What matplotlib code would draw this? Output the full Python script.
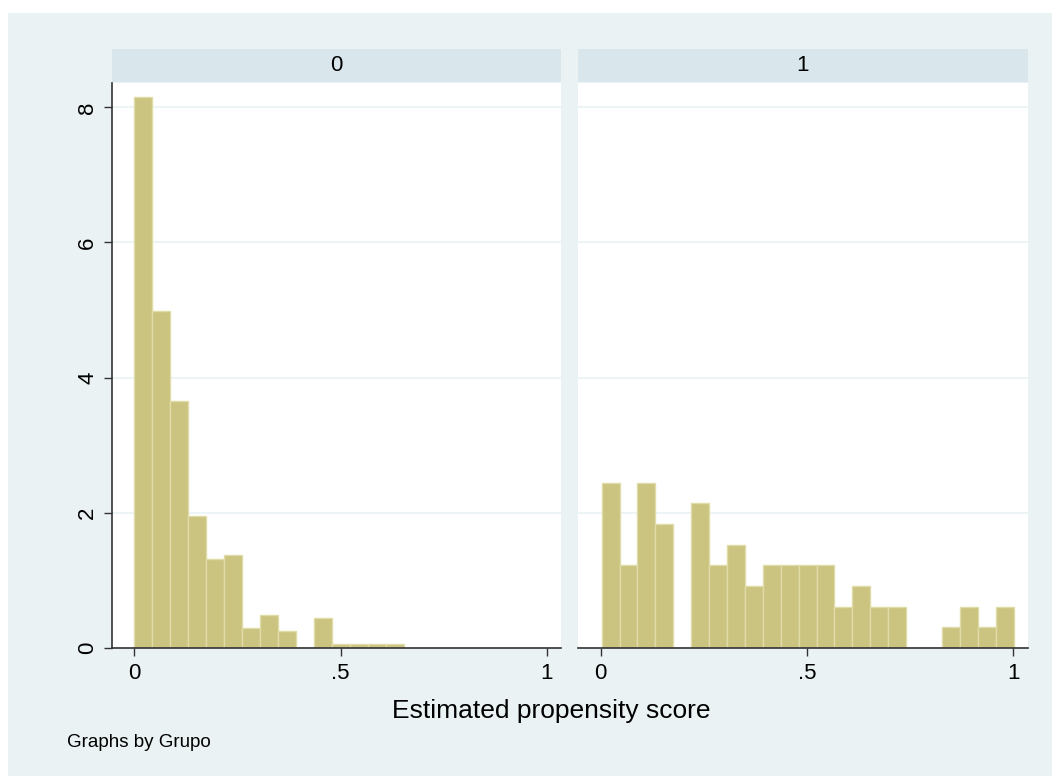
import numpy as np
import matplotlib
matplotlib.use("Agg")
import matplotlib.pyplot as plt
from matplotlib.patches import Rectangle

plt.rcParams["font.family"] = ["Liberation Sans", "DejaVu Sans"]

# group 0: 15 bins starting at 0
edges_0_start = 0.0
width_0 = 0.0436
density_0 = [8.16, 4.98, 3.66, 1.96, 1.32, 1.37, 0.29, 0.49, 0.25, 0.0,
             0.45, 0.057, 0.057, 0.057, 0.057]

# group 1: 23 bins
edges_1_start = 0.0024
width_1 = 0.0434
density_1 = [2.44, 1.23, 2.44, 1.84, 0.0, 2.14, 1.23, 1.53, 0.92, 1.23,
             1.23, 1.23, 1.23, 0.61, 0.92, 0.61, 0.61, 0.0, 0.0, 0.31,
             0.61, 0.31, 0.61]

groups = ["0", "1"]
xticks = [0, 0.5, 1]
xticklabels = ["0", ".5", "1"]
yticks = [0, 2, 4, 6, 8]

BG = "#eaf2f3"
STRIP = "#d9e6eb"
BAR = "#cbc380"
BAR_EDGE = "#e0dca8"
GRID = "#eaf2f3"

W, H = 1052, 776
fig = plt.figure(figsize=(W / 100, H / 100), dpi=100, facecolor="white")


def fx(px):
    return px / W


def fy(py):
    return 1 - py / H


# outer graph region (white margin only at top and left)
fig.patches.append(Rectangle((fx(8), -0.1), 1.2, fy(13) + 0.1,
                             transform=fig.transFigure, facecolor=BG,
                             edgecolor="none", zorder=-10))

panels = [
    (112, 561, edges_0_start, width_0, density_0, (-0.0534, 1.034)),
    (578, 1028, edges_1_start, width_1, density_1, (-0.055, 1.0356)),
]

y_top, y_bot = 83, 648
strip_top, strip_bot = 49, 82

for i, (x0, x1, start, width, dens, xlim) in enumerate(panels):
    ax = fig.add_axes([fx(x0), fy(y_bot), fx(x1 - x0), (y_bot - y_top) / H])
    lefts = start + width * np.arange(len(dens))
    ax.bar(lefts, dens, width=width, align="edge", color=BAR,
           edgecolor=BAR_EDGE, linewidth=1.0, zorder=2)
    ax.set_xlim(*xlim)
    ax.set_ylim(0, 8.36)
    ax.set_yticks(yticks)
    ax.yaxis.grid(True, color=GRID, linewidth=1.2, zorder=0)
    ax.set_axisbelow(True)
    ax.set_xticks(xticks)
    ax.set_xticklabels(xticklabels, fontsize=16)
    ax.tick_params(axis="x", length=6, width=1, color="#333333", pad=5)
    for s in ["top", "right"]:
        ax.spines[s].set_visible(False)
    ax.spines["bottom"].set_color("#333333")
    ax.spines["bottom"].set_linewidth(1.2)
    if i == 0:
        ax.spines["left"].set_color("#333333")
        ax.spines["left"].set_linewidth(1.2)
        ax.set_yticklabels([str(v) for v in yticks], fontsize=16,
                           rotation=90, va="center")
        ax.tick_params(axis="y", length=6, width=1, color="#333333", pad=4)
    else:
        ax.spines["left"].set_visible(False)
        ax.tick_params(axis="y", length=0, labelleft=False)

    strip = Rectangle((fx(x0), fy(strip_bot)), fx(x1 - x0),
                      (strip_bot - strip_top) / H, transform=fig.transFigure,
                      facecolor=STRIP, edgecolor="none")
    fig.patches.append(strip)
    fig.text(fx((x0 + x1) / 2), fy((strip_top + strip_bot) / 2), groups[i],
             ha="center", va="center", fontsize=16)

fig.text(fx(551), fy(718), "Estimated propensity score", ha="center",
         va="baseline", fontsize=19)
fig.text(fx(67), fy(747), "Graphs by Grupo", ha="left", va="baseline",
         fontsize=13.5)

fig.savefig("out.png", dpi=100, facecolor="white")
